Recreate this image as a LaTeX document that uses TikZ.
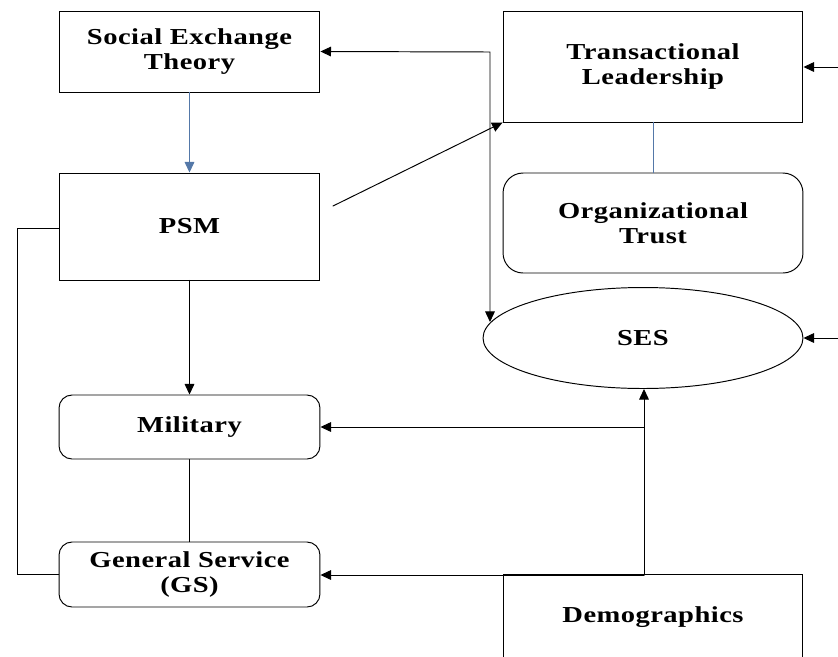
\documentclass[tikz,border=0pt]{standalone}
\usepackage{fontspec}
\setmainfont[FakeStretch=1.25, LetterSpace=2]{Liberation Serif}
\usetikzlibrary{arrows.meta, shapes.geometric}
\definecolor{lineblue}{RGB}{84,120,168}
\tikzset{>={Triangle[length=6pt,width=5.5pt]}, every node/.style={font=\fontsize{13}{14.5}\selectfont\bfseries, align=center, draw, line width=0.55pt},
  sqbox/.style={rectangle, inner sep=0pt},
  rndbox/.style={rectangle, rounded corners=0.26cm, inner sep=0pt},
  conn/.style={line width=0.55pt, line cap=round}}

\begin{document}
\begin{tikzpicture}[x=0.02cm, y=-0.02cm]
    \clip (0, 0) rectangle (838, 656);
    \node[sqbox, minimum width=5.22cm, minimum height=1.62cm] (set) at (189.5, 51.5) {Social Exchange\\Theory};
    \node[sqbox, minimum width=5.22cm, minimum height=2.14cm] (psm) at (189.5, 226.5) {PSM};
    \node[rndbox, minimum width=5.22cm, minimum height=1.28cm] (mil) at (189.5, 427) {Military};
    \node[rndbox, minimum width=5.22cm, minimum height=1.30cm] (gs) at (189.5, 574.5) {General Service\\(GS)};
    \node[sqbox, minimum width=6.0cm, minimum height=2.22cm] (tl) at (653, 66.5) {Transactional\\Leadership};
    \node[rndbox, rounded corners=0.4cm, minimum width=6.0cm, minimum height=2.0cm] (ot) at (653, 223) {Organizational\\Trust};
    \node[ellipse, inner sep=0pt, minimum width=6.4cm, minimum height=2.02cm] (ses) at (643, 338) {SES};
    \node[sqbox, minimum width=6.0cm, minimum height=1.7cm] (demo) at (653, 617) {Demographics};
    \coordinate (top) at (490, 52);
    \coordinate (psmout) at (333, 206);
    \coordinate (tlin) at (838, 67);
    \coordinate (sesin) at (838, 338);
    \coordinate (dtop) at (644, 575);
    \coordinate (mjoin) at (644, 427);
    \coordinate (lloop) at (17, 228);
    \draw[conn, ->, lineblue] (set) -- (psm);
    \draw[conn, lineblue] (tl) -- (ot);
    \draw[conn, ->] (psm) -- (mil);
    \draw[conn] (mil) -- (gs);
    \draw[conn, <->] (set.east) -- (top) -- (top |- ses.174);
    \draw[conn, ->] (psmout) -- (tl.south west);
    \draw[conn, ->] (tlin) -- (tlin -| tl.east);
    \draw[conn, ->] (sesin) -- (ses.east);
    \draw[conn, ->] (dtop) -- (dtop |- ses.south);
    \draw[conn, ->] (mjoin) -- (mil.east);
    \draw[conn, ->] (dtop) -- (dtop -| gs.east);
    \draw[conn] (psm.west |- lloop) -- (lloop) -- (lloop |- gs.west) -- (gs.west);
\end{tikzpicture}
\end{document}
